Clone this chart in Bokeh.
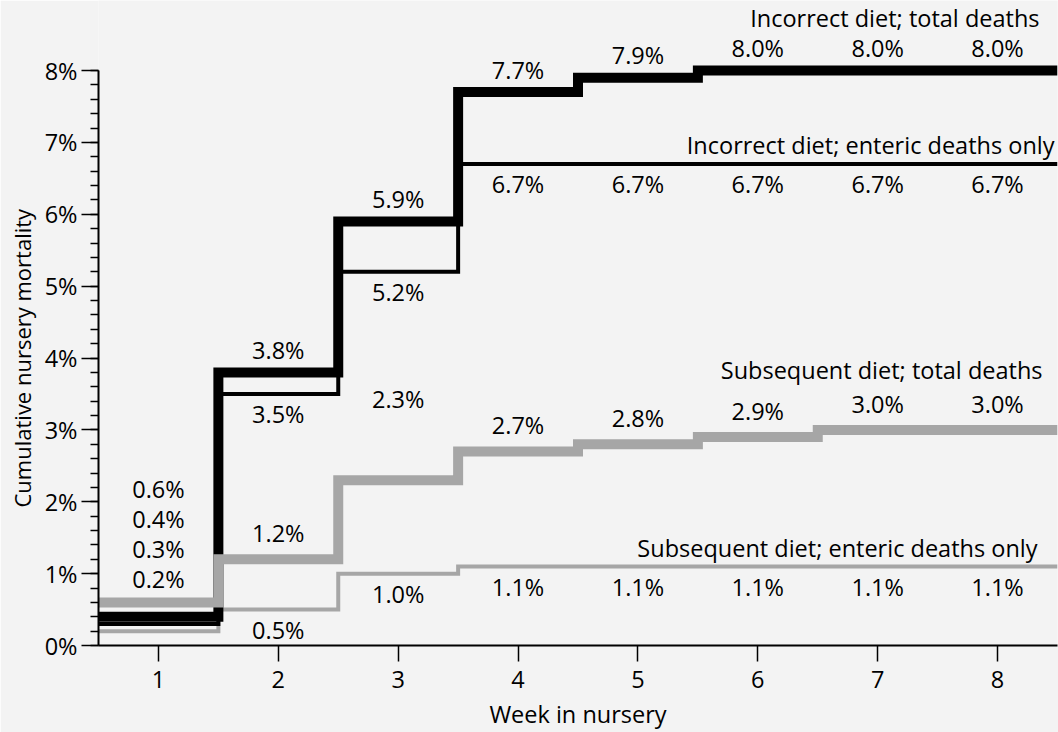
from bokeh.plotting import figure
from bokeh.models import Range1d, FixedTicker, ColumnDataSource, Title
from bokeh.core.properties import value
from bokeh.embed import file_html
from bokeh.resources import INLINE

# ---------------- data ----------------
weeks = [1, 2, 3, 4, 5, 6, 7, 8]
incorrect_total = [0.4, 3.8, 5.9, 7.7, 7.9, 8.0, 8.0, 8.0]
incorrect_enteric = [0.3, 3.5, 5.2, 6.7, 6.7, 6.7, 6.7, 6.7]
subsequent_total = [0.6, 1.2, 2.3, 2.7, 2.8, 2.9, 3.0, 3.0]
subsequent_enteric = [0.2, 0.5, 1.0, 1.1, 1.1, 1.1, 1.1, 1.1]

series_names = [
    "Incorrect diet; total deaths",
    "Incorrect diet; enteric deaths only",
    "Subsequent diet; total deaths",
    "Subsequent diet; enteric deaths only",
]
y_ticks = [0, 1, 2, 3, 4, 5, 6, 7, 8]
y_tick_labels = ["0%", "1%", "2%", "3%", "4%", "5%", "6%", "7%", "8%"]
x_title = "Week in nursery"
y_title = "Cumulative nursery mortality"

# ---------------- style ----------------
FONT = "Open Sans"
FS = "23.5px"
BLACK = "#000000"
GRAY = "#a6a6a6"
BG = "#f3f3f3"

X0, X1 = 0.5, 8.5
Y0, Y1 = 0, 8.974

p = figure(
    width=1058, height=732,
    x_range=Range1d(X0, X1), y_range=Range1d(Y0, Y1),
    output_backend="svg", toolbar_location=None,
    min_border_left=97, min_border_right=1, min_border_top=0, min_border_bottom=87,
    background_fill_color=BG, border_fill_color=BG, outline_line_color=None,
)
p.grid.visible = False

# axes
p.xaxis.ticker = FixedTicker(ticks=weeks)
p.xaxis.major_tick_out = 16
p.xaxis.major_tick_in = 0
p.xaxis.minor_tick_out = 0
p.xaxis.major_label_standoff = 9
p.xaxis.axis_label = x_title
p.xaxis.axis_label_standoff = 7
p.xaxis.axis_label_text_font = FONT
p.xaxis.axis_label_text_font_size = FS
p.xaxis.axis_label_text_font_style = "normal"
p.xaxis.axis_label_text_color = BLACK

p.yaxis.ticker = FixedTicker(ticks=y_ticks, minor_ticks=[i / 5 for i in range(0, 41)])
p.yaxis.bounds = (0, 8)
p.yaxis.major_label_overrides = dict(zip(y_ticks, y_tick_labels))
p.yaxis.major_tick_out = 17
p.yaxis.major_tick_in = 0
p.yaxis.minor_tick_out = 8
p.yaxis.minor_tick_in = 0
p.yaxis.major_label_standoff = 4

for ax in (p.xaxis, p.yaxis):
    ax.axis_line_color = BLACK
    ax.axis_line_width = 2
    ax.major_tick_line_color = BLACK
    ax.major_tick_line_width = 1.5
    ax.minor_tick_line_color = BLACK
    ax.minor_tick_line_width = 1.5
    ax.major_label_text_font = FONT
    ax.major_label_text_font_size = FS
    ax.major_label_text_color = BLACK

# y title: anchored from the bottom so it centres on the 0-8% axis
p.add_layout(Title(text=y_title, align="left", offset=138, standoff=9,
                   text_font=FONT, text_font_size="22px", text_font_style="normal",
                   text_color=BLACK), "left")

# step lines: each weekly value spans its week (week +/- 0.5)
edges = [w - 0.5 for w in weeks] + [weeks[-1] + 0.5]


def step_line(vals, color, width):
    p.step(edges, vals + [vals[-1]], mode="after", line_color=color,
           line_width=width, line_join="miter", line_cap="butt")


# drawing order: gray thin, black thin, black thick, gray thick
step_line(subsequent_enteric, GRAY, 4)
step_line(incorrect_enteric, BLACK, 4)
step_line(incorrect_total, BLACK, 10)
step_line(subsequent_total, GRAY, 10)

# value labels (weeks 2..8), offset above/below each line in screen px
series = [incorrect_total, incorrect_enteric, subsequent_total, subsequent_enteric]
label_offsets = [-22.5, 20.5, -26, 20.5]
for s_idx, (vals, off) in enumerate(zip(series, label_offsets)):
    offs = [off] * (len(weeks) - 1)
    if s_idx == 2:
        offs[1] = -81.5  # the 2.3% label sits higher in the original
    src = ColumnDataSource(dict(
        x=weeks[1:], y=vals[1:],
        t=[f"{v:.1f}%" for v in vals[1:]],
        yo=offs,
    ))
    p.text(x="x", y="y", text="t", y_offset="yo", source=src,
           text_font=value(FONT), text_font_size=value(FS), text_color=BLACK,
           text_align="center", text_baseline="middle")

# week 1 labels stacked above the lines
w1 = sorted([s[0] for s in series], reverse=True)
n = len(w1)
src1 = ColumnDataSource(dict(
    x=[weeks[0]] * n, y=[w1[0]] * n,
    t=[f"{v:.1f}%" for v in w1],
    yo=[-23 - 30 * (n - 1 - k) for k in range(n)],
))
p.text(x="x", y="y", text="t", y_offset="yo", source=src1,
       text_font=value(FONT), text_font_size=value(FS), text_color=BLACK,
       text_align="center", text_baseline="middle")

# series names at right end
name_xo = [-18, -3, -15, -20]
name_yo = [-52.5, -19, -59.5, -18.5]
src_n = ColumnDataSource(dict(
    x=[X1] * 4, y=[s[-1] for s in series], t=series_names,
    xo=name_xo, yo=name_yo,
))
p.text(x="x", y="y", text="t", x_offset="xo", y_offset="yo", source=src_n,
       text_font=value(FONT), text_font_size=value(FS), text_color=BLACK,
       text_align="right", text_baseline="middle")

open("out.html", "w").write(file_html(p, INLINE))
